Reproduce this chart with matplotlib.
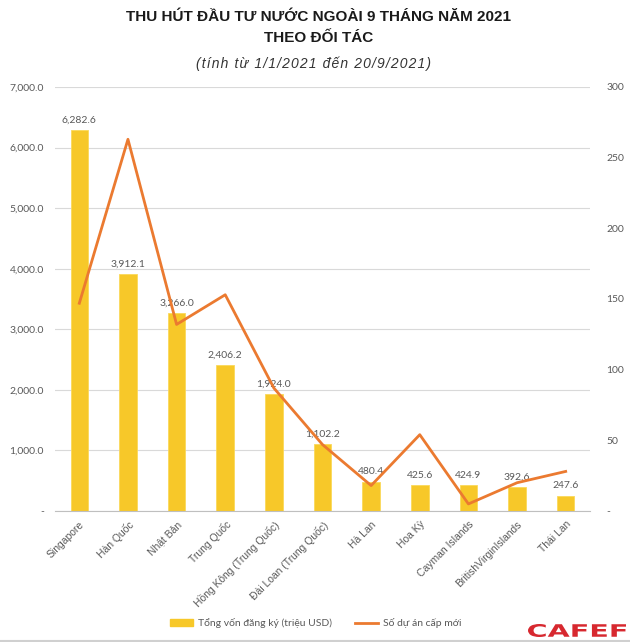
import matplotlib
matplotlib.use("Agg")
import matplotlib.pyplot as plt
from matplotlib.patches import Patch, PathPatch
from matplotlib.lines import Line2D
from matplotlib.ticker import FuncFormatter, MultipleLocator
from matplotlib.textpath import TextPath
from matplotlib.font_manager import FontProperties
from matplotlib.transforms import Affine2D, IdentityTransform

plt.rcParams['font.family'] = ['Liberation Sans', 'DejaVu Sans']

partners = ["Singapore", "Hàn Quốc", "Nhật Bản", "Trung Quốc", "Hồng Kông (Trung Quốc)",
            "Đài Loan (Trung Quốc)", "Hà Lan", "Hoa Kỳ", "Cayman Islands",
            "BritishVirginIslands", "Thái Lan"]
capital = [6282.6, 3912.1, 3266.0, 2406.2, 1924.0, 1102.2, 480.4, 425.6, 424.9, 392.6, 247.6]
projects = [147, 263, 132, 153, 87, 47, 18, 54, 5, 20, 28]

bar_color = "#F7C829"
line_color = "#EB7A30"
grey = "#595959"
label_fam = ['Lato', 'DejaVu Sans']

fig = plt.figure(figsize=(6.3, 6.42), dpi=100)
ax = fig.add_axes([55/630, 1-511/642, 535/630, 424/642])
ax2 = ax.twinx()

x = list(range(len(partners)))
ax.bar(x, capital, width=0.36, color=bar_color, edgecolor="#FBD95A", linewidth=0.6, zorder=2)
for xi, v in zip(x, capital):
    ax.annotate(f"{v:,.1f}", (xi, v), xytext=(0, 4), textcoords="offset points",
                ha="center", va="bottom", fontsize=7.5, color=grey, zorder=5, family=label_fam)

ax2.plot(x, projects, color=line_color, linewidth=2.0, zorder=3)

ax.set_xlim(-0.5, len(partners) - 0.5)
ax.set_ylim(0, 7000)
ax2.set_ylim(0, 300)
ax.yaxis.set_major_locator(MultipleLocator(1000))
ax2.yaxis.set_major_locator(MultipleLocator(50))
ax.yaxis.set_major_formatter(FuncFormatter(lambda v, p: "-" if v == 0 else f"{v:,.1f}"))
ax2.yaxis.set_major_formatter(FuncFormatter(lambda v, p: "-" if v == 0 else f"{v:.0f}"))

ax.grid(axis="y", color="#D9D9D9", linewidth=0.8, zorder=0)
ax.set_axisbelow(True)
for a in (ax, ax2):
    for s in a.spines.values():
        s.set_visible(False)
    a.tick_params(length=0, labelsize=7.5, colors=grey)
    for lab in a.get_yticklabels():
        lab.set_family(label_fam)
ax.spines["bottom"].set_visible(True)
ax.spines["bottom"].set_color("#BFBFBF")
ax.tick_params(axis="y", pad=8)
ax2.tick_params(axis="y", pad=12)

ax.set_xticks(x)
ax.set_xticklabels(partners, rotation=45, ha="right", rotation_mode="anchor", fontsize=7.5,
                   color=grey, family=['Liberation Sans', 'DejaVu Sans'])
ax.tick_params(axis="x", pad=6)
ax.set_zorder(ax2.get_zorder() - 1)
ax.patch.set_visible(False)

fig.text(0.505, 1-17/642, "THU HÚT ĐẦU TƯ NƯỚC NGOÀI 9 THÁNG NĂM 2021", ha="center", va="center",
         fontsize=11, fontweight="bold", color="#1a1a1a")
fig.text(0.505, 1-38/642, "THEO ĐỐI TÁC", ha="center", va="center",
         fontsize=11, fontweight="bold", color="#1a1a1a")
subtitle = "(tính từ 1/1/2021 đến 20/9/2021)"
fig.text(313/630, 1-64/642, "\u200a".join(subtitle), ha="center", va="center",
         fontsize=10, style="italic", color="#333333")

handles = [Patch(facecolor=bar_color, edgecolor=bar_color),
           Line2D([0], [0], color=line_color, linewidth=2)]
fig.legend(handles, ["Tổng vốn đăng ký (triệu USD)", "Số dự án cấp mới"], loc="center",
           bbox_to_anchor=(316/630, 1-623/642), ncol=2, frameon=False,
           prop=FontProperties(family=label_fam, size=7.5),
           handlelength=2.2, handleheight=0.6, handletextpad=0.5, columnspacing=2.2,
           labelcolor=grey)

# CAFEF logo (wide block lettering)
tp = TextPath((0, 0), "CAFEF", size=10, prop=FontProperties(family="DejaVu Sans", weight="bold"))
ext = tp.get_extents()
x0, x1, yb, yt = 528, 626, 642 - 637, 642 - 624
tr = Affine2D().translate(-ext.x0, -ext.y0).scale((x1 - x0) / ext.width, (yt - yb) / ext.height).translate(x0, yb)
fig.add_artist(PathPatch(tr.transform_path(tp), facecolor="#D7282F", edgecolor="none",
                         transform=IdentityTransform()))
fig.add_artist(Line2D([0, 1], [1-640.5/642, 1-640.5/642], color="#D0D0D0", linewidth=1.5))

fig.savefig("out.png", dpi=100, facecolor="white")
